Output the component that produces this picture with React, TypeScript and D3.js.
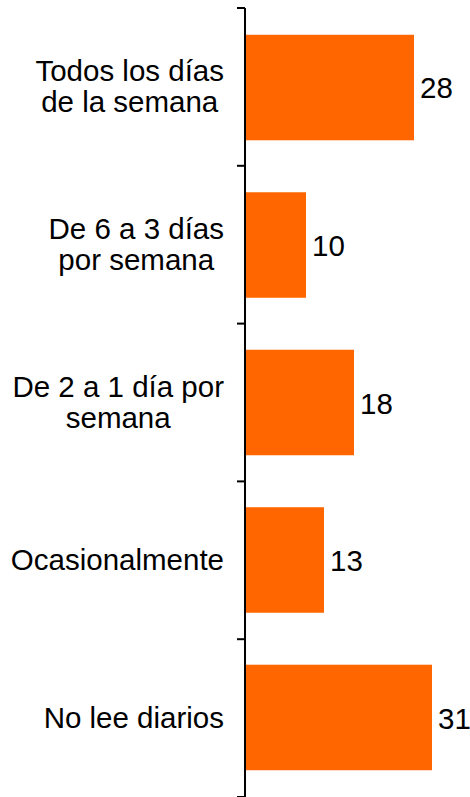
import React, { useEffect, useRef } from 'react'
import * as d3 from 'd3'

const categories = [
    ['Todos los días', 'de la semana'],
    ['De 6 a 3 días', 'por semana'],
    ['De 2 a 1 día por', 'semana'],
    ['Ocasionalmente'],
    ['No lee diarios'],
]
const values = [28, 10, 18, 13, 31]

export default function App() {
    const ref = useRef<SVGSVGElement>(null)

    useEffect(() => {
        const svg = d3.select(ref.current)
        svg.selectAll('*').remove()

        const width = 470, height = 797
        const axisX = 245
        const labelRight = 224
        const keys = categories.map((c, i) => String(i))

        const y = d3.scaleBand().domain(keys).range([8, 797]).paddingInner(0.33).paddingOuter(0.17)
        const yTicks = d3.scaleBand().domain(keys).range([8, 797])
        const x = d3.scaleLinear().domain([0, 35]).range([axisX + 1, axisX + 1 + 35 * 6])

        const font = '"Liberation Sans", Arial, sans-serif'
        const fs = '29.5px'

        svg.attr('width', width).attr('height', height)

        // bars
        svg.selectAll('rect.bar')
            .data(values)
            .enter()
            .append('rect')
            .attr('class', 'bar')
            .attr('x', x(0))
            .attr('y', (d, i) => y(String(i))!)
            .attr('width', d => x(d) - x(0))
            .attr('height', y.bandwidth())
            .attr('fill', '#ff6600')

        // value labels
        svg.selectAll('text.val')
            .data(values)
            .enter()
            .append('text')
            .attr('class', 'val')
            .attr('x', d => x(d) + 6)
            .attr('y', (d, i) => yTicks(String(i))! + yTicks.bandwidth() / 2 + 11)
            .style('font-family', font)
            .style('font-size', fs)
            .attr('fill', '#000')
            .text(d => d)

        // category labels: block right aligned, lines centered inside
        const measure = svg.append('text').style('font-family', font).style('font-size', fs)
        categories.forEach((lines, i) => {
            const widths = lines.map(l => {
                measure.text(l)
                return (measure.node() as SVGTextElement).getComputedTextLength()
            })
            const blockW = d3.max(widths)!
            const cx = labelRight - blockW / 2
            const center = yTicks(String(i))! + yTicks.bandwidth() / 2
            lines.forEach((l, j) => {
                svg.append('text')
                    .attr('x', cx)
                    .attr('y', center + 10 + (j - (lines.length - 1) / 2) * 31)
                    .attr('text-anchor', 'middle')
                    .style('font-family', font)
                    .style('font-size', fs)
                    .attr('fill', '#000')
                    .text(l)
            })
        })
        measure.remove()

        // axis
        svg.append('line')
            .attr('x1', axisX).attr('x2', axisX)
            .attr('y1', 8).attr('y2', 797)
            .attr('stroke', '#000').attr('stroke-width', 2)

        const tickYs = keys.map(k => yTicks(k)!).concat([797])
        svg.selectAll('line.tick')
            .data(tickYs)
            .enter()
            .append('line')
            .attr('class', 'tick')
            .attr('x1', axisX - 8).attr('x2', axisX)
            .attr('y1', d => d).attr('y2', d => d)
            .attr('stroke', '#000').attr('stroke-width', 2)
    }, [])

    return (
        <svg ref={ref} style={{ position: 'absolute', left: 0, top: 0, background: '#fff' }} />
    )
}
